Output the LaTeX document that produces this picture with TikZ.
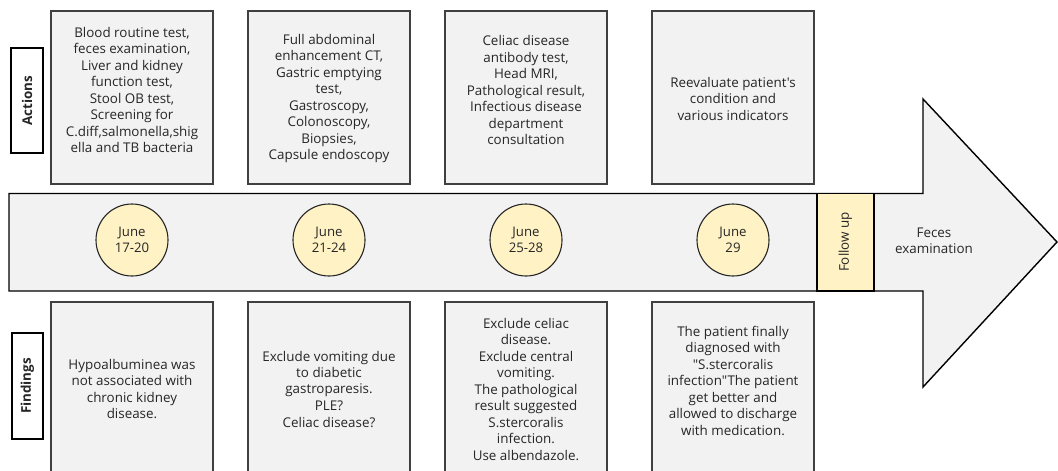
\documentclass[tikz,border=0pt]{standalone}
\usepackage{fontspec}
\newfontfamily\osans{Open Sans}
\definecolor{boxfill}{HTML}{F2F2F2}
\definecolor{boxline}{HTML}{404040}
\definecolor{pale}{HTML}{FFF2C4}
\definecolor{txtc}{HTML}{262626}
\begin{document}
\begin{tikzpicture}[x=1pt,y=-1pt,
  box/.style={draw=boxline,line width=1.1pt,fill=boxfill},
  lbl/.style={draw=black,line width=1.6pt,fill=white},
  txt/.style={align=center,font=\osans\fontsize{13.4}{16.5}\selectfont,text=txtc,inner sep=0pt},
  lbltxt/.style={font=\osans\fontsize{13.4}{14}\selectfont\bfseries,text=txtc,rotate=90,inner sep=0pt},
  date/.style={circle,draw=black!85,line width=1.1pt,fill=pale,minimum size=72pt,inner sep=0pt,align=center,font=\osans\fontsize{13.2}{16.5}\selectfont,text=txtc}]
\clip (0,0) rectangle (1058,471);
\fill[white] (0,0) rectangle (1058,471);
% side labels
\draw[lbl] (11,48) rectangle (43,153);
\node[lbltxt] (actions) at (27,100.5) {Actions};
\draw[lbl] (12,333) rectangle (43,439);
\node[lbltxt] (findings) at (27.5,386) {Findings};
% top boxes
\draw[box] (51,11) rectangle (213,184);
\draw[box] (248,11) rectangle (410,184);
\draw[box] (445,11) rectangle (607,184);
\draw[box] (652,11) rectangle (814,184);
\node[txt] (t1) at (132,90) {Blood routine test,\\feces examination,\\Liver and kidney\\function test,\\Stool OB test,\\Screening for\\C.diff,salmonella,shig\\ella and TB bacteria};
\node[txt] (t2) at (329,98.5) {Full abdominal\\enhancement CT,\\Gastric emptying\\test,\\Gastroscopy,\\Colonoscopy,\\Biopsies,\\Capsule endoscopy};
\node[txt] (t3) at (526,90) {Celiac disease\\antibody test,\\Head MRI,\\Pathological result,\\Infectious disease\\department\\consultation};
\node[txt] (t4) at (733,98.5) {Reevaluate patient's\\condition and\\various indicators};
% bottom boxes
\draw[box] (51,302) rectangle (213,485);
\draw[box] (248,302) rectangle (410,485);
\draw[box] (445,302) rectangle (607,485);
\draw[box] (652,302) rectangle (814,485);
\node[txt] (b1) at (132,389) {Hypoalbuminea was\\not associated with\\chronic kidney\\disease.};
\node[txt] (b2) at (329,389) {Exclude vomiting due\\to diabetic\\gastroparesis.\\PLE?\\Celiac disease?};
\node[txt] (b3) at (526,389) {Exclude celiac\\disease.\\Exclude central\\vomiting.\\The pathological\\result suggested\\S.stercoralis\\infection.\\Use albendazole.};
\node[txt] (b4) at (733,380.5) {The patient finally\\diagnosed with\\"S.stercoralis\\infection"The patient\\get better and\\allowed to discharge\\with medication.};
% main arrow band
\draw[line width=1.4pt,fill=boxfill,line join=miter]
  (9,193.5) -- (923,193.5) -- (923,99) -- (1057,242) -- (923,387) -- (923,291) -- (9,291) -- cycle;
\draw[line width=1.3pt,fill=pale] (817,193.5) rectangle (874,291);
\node[font=\osans\fontsize{13.4}{14}\selectfont,text=txtc,rotate=90,inner sep=0pt] (fu) at (845.5,242) {Follow up};
\node[txt] (fe) at (934,241) {Feces\\examination};
% date circles
\node[date] (d1) at (132,240) {June\\17-20};
\node[date] (d2) at (329,240) {June\\21-24};
\node[date] (d3) at (526,240) {June\\25-28};
\node[date] (d4) at (733,240) {June\\29};
\end{tikzpicture}
\end{document}
